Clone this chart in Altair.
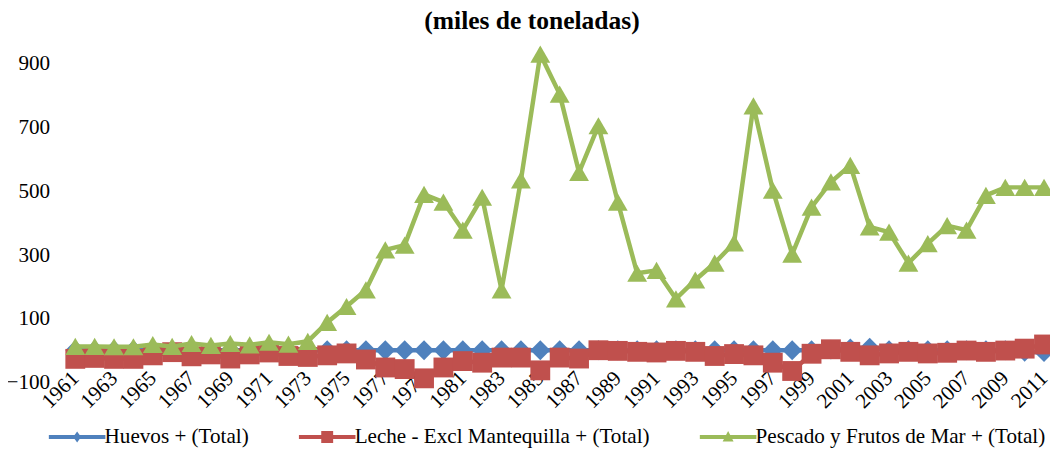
import altair as alt
import pandas as pd

years = list(range(1961, 2012))

huevos = [2, 2, 2, 2, 2, 2, 2, 2, 2, 2,
          2, 2, 2, 2, 2, 2, 2, 2, 2, 2,
          2, 2, 2, 2, 2, 2, 2, 2, 2, 2,
          2, 2, 2, 2, 2, 2, 2, 2, 2, 4,
          8, 10, 2, 2, 2, 2, 2, 2, 2, -3,
          -4]

leche = [-25, -22, -25, -25, -14, -4, -17, -11, -24, -11,
         -5, -16, -19, -14, -8, -27, -52, -57, -86, -52,
         -32, -37, -21, -21, -61, -21, -24, 2, 0, -3,
         -5, 0, -3, -16, -10, -14, -37, -63, -9, 5,
         -3, -14, -8, -3, -8, -6, 1, -3, 1, 7,
         20]

pescado = [14, 14, 13, 13, 20, 14, 23, 17, 23, 19,
           27, 21, 30, 89, 139, 191, 316, 331, 490, 466,
           378, 481, 191, 535, 929, 804, 559, 705, 466, 243,
           252, 163, 222, 275, 338, 767, 503, 303, 450, 529,
           581, 388, 372, 275, 336, 392, 378, 487, 512, 512,
           512]

series_names = ["Huevos + (Total)",
                "Leche - Excl Mantequilla + (Total)",
                "Pescado y Frutos de Mar + (Total)"]
colors = ["#4F81BD", "#C0504D", "#9BBB59"]
shapes = ["diamond", "square", "triangle-up"]
y_ticks = [-100, 100, 300, 500, 700, 900]
x_ticks = list(range(1961, 2012, 2))
title_text = "(miles de toneladas)"

# legend symbols: a thick line with a small series marker
legend_paths = [
    "M-5.7,-0.4L5.7,-0.4L5.7,0.4L-5.7,0.4Z M0,-1.1L0.8,0L0,1.1L-0.8,0Z",
    "M-5.7,-0.4L5.7,-0.4L5.7,0.4L-5.7,0.4Z M-1.2,-1.2L1.2,-1.2L1.2,1.2L-1.2,1.2Z",
    "M-5.7,-0.4L5.7,-0.4L5.7,0.4L-5.7,0.4Z M0,-1.2L1.1,0.9L-1.1,0.9Z",
]

rows = []
for name, vals in zip(series_names, [huevos, leche, pescado]):
    for yr, v in zip(years, vals):
        rows.append({"year": yr, "value": v, "series": name})
df = pd.DataFrame(rows)

FONT = "Liberation Serif"
FS = 21.3

x_enc = alt.X(
    "year:Q",
    scale=alt.Scale(domain=[1960.6, 2011], nice=False, zero=False),
    axis=alt.Axis(values=x_ticks, format="d", labelAngle=-45, labelAlign="right",
                  labelBaseline="middle", ticks=False, domain=False, grid=False,
                  labelPadding=-8, title=None, labelFontSize=FS, labelFont=FONT,
                  labelColor="black", labelOverlap=False, labelFlush=False,
                  labelBound=False),
)
y_enc = alt.Y(
    "value:Q",
    scale=alt.Scale(domain=[-100, 1000], nice=False, zero=False),
    axis=alt.Axis(values=y_ticks, ticks=False, domain=False, grid=False,
                  labelPadding=18, title=None, labelFontSize=FS, labelFont=FONT,
                  labelColor="black"),
)

layers = []
for name, shape, col in zip(series_names, shapes, colors):
    b = alt.Chart(df).transform_filter(alt.datum.series == name)
    layers.append(b.mark_line(strokeWidth=4.5, color=col).encode(x=x_enc, y=y_enc))
    layers.append(
        b.mark_point(shape=shape, filled=True, size=400, opacity=1, color=col)
        .encode(x=x_enc, y=y_enc)
    )

leg = alt.Legend(title=None, orient="none", legendX=-1, legendY=398,
                 direction="horizontal", symbolSize=100, symbolStrokeWidth=0,
                 labelOffset=17, columnPadding=50, labelFont=FONT,
                 labelFontSize=FS, labelColor="black", labelLimit=500,
                 symbolOpacity=1)

legend_layer = (
    alt.Chart(df)
    .transform_filter("false")
    .mark_point(filled=True, opacity=1)
    .encode(
        x=x_enc, y=y_enc,
        color=alt.Color("series:N", scale=alt.Scale(domain=series_names, range=colors),
                        legend=leg),
        shape=alt.Shape("series:N",
                        scale=alt.Scale(domain=series_names, range=legend_paths),
                        legend=leg),
    )
)

chart = (
    alt.layer(*layers, legend_layer)
    .properties(
        width=984,
        height=354,
        title=alt.Title(title_text, font=FONT, fontSize=25.7, fontWeight="bold",
                        color="black", anchor="middle", frame="group",
                        dx=-24, offset=-3),
        autosize=alt.AutoSizeParams(type="none"),
        padding={"left": 60, "top": 22, "right": 6, "bottom": 64},
    )
    .configure_view(stroke=None)
)

chart.save("out.html", embed_options={"renderer": "svg", "actions": False})
